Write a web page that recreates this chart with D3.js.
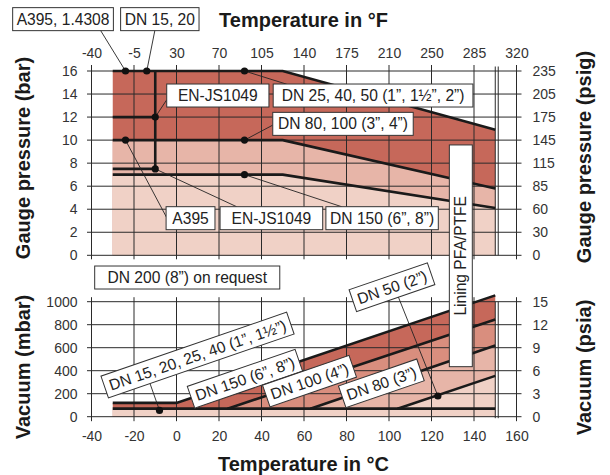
<!DOCTYPE html>
<html>
<head>
<meta charset="utf-8">
<script src="https://cdn.jsdelivr.net/npm/d3@7"></script>
<style>
  body { margin: 0; background: #fff; }
  svg text { font-family: "Liberation Sans", Arial, Helvetica, sans-serif; }
</style>
</head>
<body>
<svg id="chart" width="610" height="475"></svg>
<script>
// axis values
const tempC = [-40, -20, 0, 20, 40, 60, 80, 100, 120, 140, 160];
const tempF = ["-40", "-5", "30", "70", "105", "140", "175", "210", "250", "285", "320"];
const barTicks = [0, 2, 4, 6, 8, 10, 12, 14, 16];
const psigTicks = ["0", "30", "60", "85", "115", "145", "175", "205", "235"];
const mbarTicks = [0, 200, 400, 600, 800, 1000];
const psiaTicks = ["0", "3", "6", "9", "12", "15"];

// pressure limits, [°C, bar]
const limit16 = [[-30, 16], [50, 16], [150, 10.9]];
const limit10 = [[-30, 10], [50, 10], [150, 5.8]];
const limit7 = [[-30, 7], [50, 7], [150, 4.1]];
const jsLimit12 = [[-30, 12], [-10, 12]];
const jsLimit75 = [[-30, 7.5], [-10, 7.5]];
const jsStep = [[-10, 16], [-10, 7.5]];
const pressDots = [[-24, 16], [-14, 16], [32, 16], [-10, 12], [-24, 10], [32, 10], [-10, 7.5], [32, 7]];

// vacuum limits, [°C, mbar]
const vacDn15 = [[-30, 120], [0, 120], [150, 1055]];
const vacBase = [[-30, 70], [150, 70]];
const vacDn150 = [[24, 70], [150, 845]];
const vacDn100 = [[63, 70], [150, 620]];
const vacDn80 = [[104, 70], [150, 355]];
const vacDots = [[-8, 55], [123, 180]];

const svg = d3.select("#chart");

const x = d3.scaleLinear().domain([-40, 160]).range([91.5, 516.5]);
const yP = d3.scaleLinear().domain([0, 16]).range([255.3, 71]);
const yV = d3.scaleLinear().domain([0, 1000]).range([416.7, 301.7]);

const dark = "#c6685a", mid2 = "#d98e7e", mid = "#e7b5a8", light = "#f0d1c6";

// ---- fills
const areaP = d3.area().x(d => x(d[0])).y0(yP(0)).y1(d => yP(d[1]));
svg.append("path").datum(limit16).attr("fill", dark).attr("d", areaP);
svg.append("path").datum(limit10).attr("fill", mid).attr("d", areaP);
svg.append("path").datum(limit7).attr("fill", light).attr("d", areaP);

const areaV = base => d3.area().x(d => x(d[0])).y0(yV(base)).y1(d => yV(d[1]));
svg.append("path").datum(vacDn15).attr("fill", dark).attr("d", areaV(0));
svg.append("path").datum(vacDn150).attr("fill", mid2).attr("d", areaV(70));
svg.append("path").datum(vacDn100).attr("fill", mid).attr("d", areaV(70));
svg.append("path").datum(vacDn80).attr("fill", light).attr("d", areaV(70));
svg.append("path").datum(vacBase).attr("fill", light).attr("d", areaV(0));

// ---- grid
const grid = svg.append("g").attr("stroke", "#2a2a2a").attr("stroke-width", 1);
const gx0 = x(-40) - 4.5, gx1 = x(160) + 5;
grid.selectAll(".hp").data(barTicks).enter().append("line")
    .attr("x1", gx0).attr("x2", gx1)
    .attr("y1", d => yP(d)).attr("y2", d => yP(d));
grid.selectAll(".vp").data(tempC).enter().append("line")
    .attr("x1", d => x(d)).attr("x2", d => x(d))
    .attr("y1", yP(16) - 6).attr("y2", yP(0) + 4);
grid.selectAll(".hv").data(mbarTicks).enter().append("line")
    .attr("x1", gx0).attr("x2", gx1)
    .attr("y1", d => yV(d)).attr("y2", d => yV(d));
grid.selectAll(".vv").data(tempC).enter().append("line")
    .attr("x1", d => x(d)).attr("x2", d => x(d))
    .attr("y1", yV(1000) - 4.5).attr("y2", yV(0) + 4.5);

// double edge line at 150 °C
[150, 151.4].forEach(t => {
    grid.append("line").attr("x1", x(t)).attr("x2", x(t))
        .attr("y1", yP(16) - 4.5).attr("y2", yP(0));
    grid.append("line").attr("x1", x(t)).attr("x2", x(t))
        .attr("y1", yV(1000)).attr("y2", yV(0) + 1.5);
});

// ---- limit lines
const lineP = d3.line().x(d => x(d[0])).y(d => yP(d[1]));
const lineV = d3.line().x(d => x(d[0])).y(d => yV(d[1]));
const thick = svg.append("g").attr("fill", "none").attr("stroke", "#1a1a1a").attr("stroke-width", 2.6);
[limit16, limit10, limit7, jsLimit12, jsLimit75, jsStep].forEach(s => thick.append("path").attr("d", lineP(s)));
[vacDn15, vacBase, vacDn150, vacDn100, vacDn80].forEach(s => thick.append("path").attr("d", lineV(s)));

// ---- axes labels
function styleAxis(g) {
    g.select(".domain").remove();
    g.selectAll("text").attr("font-family", null).attr("font-size", 14).attr("fill", "#333");
    g.attr("font-family", null);
}
svg.append("g").attr("transform", `translate(${x(-40)},0)`)
    .call(d3.axisLeft(yP).tickValues(barTicks).tickSize(0).tickPadding(14).tickFormat(d => String(d)))
    .call(styleAxis);
svg.append("g").attr("transform", `translate(${x(160)},0)`)
    .call(d3.axisRight(yP).tickValues(barTicks).tickSize(0).tickPadding(16).tickFormat((d, i) => psigTicks[i]))
    .call(styleAxis);
svg.append("g").attr("transform", `translate(0,${yP(16)})`)
    .call(d3.axisTop(x).tickValues(tempC).tickSize(0).tickPadding(13).tickFormat((d, i) => tempF[i]))
    .call(styleAxis);
svg.append("g").attr("transform", `translate(${x(-40)},0)`)
    .call(d3.axisLeft(yV).tickValues(mbarTicks).tickSize(0).tickPadding(14).tickFormat(d => String(d)))
    .call(styleAxis);
svg.append("g").attr("transform", `translate(${x(160)},0)`)
    .call(d3.axisRight(yV).tickValues(mbarTicks).tickSize(0).tickPadding(16).tickFormat((d, i) => psiaTicks[i]))
    .call(styleAxis);
svg.append("g").attr("transform", `translate(0,${yV(0)})`)
    .call(d3.axisBottom(x).tickValues(tempC).tickSize(0).tickPadding(14).tickFormat(d => String(d)))
    .call(styleAxis);

// ---- titles
const title = (txt, tx, ty, rot) => svg.append("text")
    .attr("transform", `translate(${tx},${ty}) rotate(${rot})`)
    .attr("text-anchor", "middle").attr("font-size", 20).attr("font-weight", "bold")
    .attr("fill", "#1a1a1a").text(txt);
title("Temperature in °F", 303.5, 26.7, 0);
title("Temperature in °C", 303.5, 471, 0);
title("Gauge pressure (bar)", 30, 158, -90);
title("Vacuum (mbar)", 30, 367, -90);
title("Gauge pressure (psig)", 591, 157, -90);
title("Vacuum (psia)", 591, 367.5, -90);

// ---- callouts, upper chart: box [left °C, right °C, top bar], leader end [°C, bar]
const pressCallouts = [
    { label: "A395, 1.4308", box: [-77.1, -29.7, 21.5], dot: 0, end: [-36, 19.6] },
    { label: "DN 15, 20", box: [-26.3, 10.6, 21.5], dot: 1, end: [-10.1, 19.6] },
    { label: "EN-JS1049", box: [-4.6, 43.5, 14.87], dot: 3, end: [-4.6, 13.5] },
    { label: "DN 25, 40, 50 (1”, 1½”, 2”)", box: [45.5, 139.5, 14.87], dot: 2, end: [51.9, 14.85] },
    { label: "DN 80, 100 (3”, 4”)", box: [45.3, 111.4, 12.41], dot: 5, end: [45.3, 11.3] },
    { label: "A395", box: [-4.9, 18.1, 4.22], dot: 4, end: [-4.7, 3.3] },
    { label: "EN-JS1049", box: [20.5, 68.8, 4.22], dot: 6, end: [28.3, 4.22] },
    { label: "DN 150 (6”, 8”)", box: [70.3, 123.2, 4.22], dot: 7, end: [77.7, 4.22] },
    { label: "DN 200 (8”) on request", box: [-38.5, 48.6, -0.93], dot: null }
];

const leaders = svg.append("g").attr("stroke", "#222").attr("stroke-width", 0.9);
pressCallouts.filter(c => c.dot !== null).forEach(c => {
    const p = pressDots[c.dot];
    leaders.append("line")
        .attr("x1", x(p[0])).attr("y1", yP(p[1]))
        .attr("x2", x(c.end[0])).attr("y2", yP(c.end[1]));
});

svg.selectAll(".pdot").data(pressDots).enter().append("circle")
    .attr("cx", d => x(d[0])).attr("cy", d => yP(d[1])).attr("r", 3.6).attr("fill", "#111");

pressCallouts.forEach(c => {
    const x0 = x(c.box[0]), x1 = x(c.box[1]), y0 = yP(c.box[2]);
    svg.append("rect").attr("x", x0).attr("y", y0).attr("width", x1 - x0).attr("height", 23)
        .attr("fill", "#fff").attr("stroke", "#333").attr("stroke-width", 1);
    svg.append("text").attr("x", (x0 + x1) / 2).attr("y", y0 + 11.5).attr("dy", "0.36em")
        .attr("text-anchor", "middle").attr("font-size", 15.6).attr("fill", "#222").text(c.label);
});

// lining box spanning both charts
{
    const lx0 = x(128.4), lx1 = x(139.2), ly0 = yP(9.58), ly1 = yV(435);
    svg.append("rect").attr("x", lx0).attr("y", ly0).attr("width", lx1 - lx0).attr("height", ly1 - ly0)
        .attr("fill", "#fff").attr("stroke", "#333").attr("stroke-width", 1);
    svg.append("text")
        .attr("transform", `translate(${(lx0 + lx1) / 2},${(ly0 + ly1) / 2}) rotate(-90)`)
        .attr("dy", "0.36em").attr("text-anchor", "middle").attr("font-size", 15.6).attr("fill", "#222")
        .text("Lining PFA/PTFE");
}

// ---- callouts, lower chart: centre [°C, mbar], tilted along the limit lines
const vacCallouts = [
    { label: "DN 15, 20, 25, 40 (1”, 1½”)", at: [9.9, 536], dot: 0, start: [-12.5, 290] },
    { label: "DN 150 (6”, 8”)", at: [32.2, 330], dot: null },
    { label: "DN 100 (4”)", at: [62.6, 309], dot: null },
    { label: "DN 80 (3”)", at: [96.4, 290], dot: null },
    { label: "DN 50 (2”)", at: [101.4, 1126], dot: 1, start: [104.4, 1041] }
];

vacCallouts.filter(c => c.dot !== null).forEach(c => {
    const p = vacDots[c.dot];
    leaders.append("line")
        .attr("x1", x(c.start[0])).attr("y1", yV(c.start[1]))
        .attr("x2", x(p[0])).attr("y2", yV(p[1]));
});
svg.selectAll(".vdot").data(vacDots).enter().append("circle")
    .attr("cx", d => x(d[0])).attr("cy", d => yV(d[1])).attr("r", 3.6).attr("fill", "#111");

vacCallouts.forEach(c => {
    const g = svg.append("g")
        .attr("transform", `translate(${x(c.at[0])},${yV(c.at[1])}) rotate(-19)`);
    const t = g.append("text").attr("dy", "0.36em").attr("text-anchor", "middle")
        .attr("font-size", 15.6).attr("fill", "#222").text(c.label);
    const w = t.node().getBBox().width + 10;
    g.insert("rect", "text").attr("x", -w / 2).attr("y", -11.5).attr("width", w).attr("height", 23)
        .attr("fill", "#fff").attr("stroke", "#333").attr("stroke-width", 1);
});
</script>
</body>
</html>
